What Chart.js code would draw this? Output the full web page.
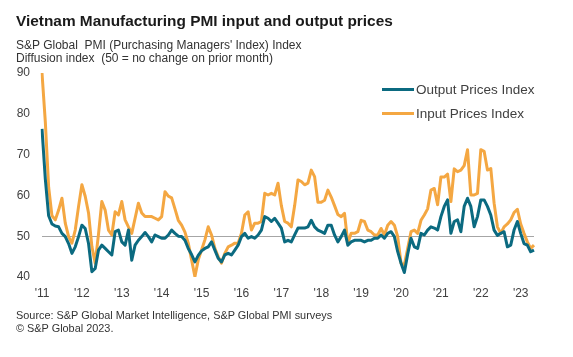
<!DOCTYPE html>
<html>
<head>
<meta charset="utf-8">
<script src="https://cdn.jsdelivr.net/npm/chart.js@4"></script>
<style>
  html, body { margin: 0; padding: 0; background: #fff; }
  body { width: 573px; height: 357px; position: relative; overflow: hidden;
         font-family: "Liberation Sans", Arial, sans-serif; color: #333; }
  #c { position: absolute; left: 0; top: 0; }
  .t { position: absolute; left: 16px; white-space: pre; }
  #title { top: 12px; font-size: 15.4px; font-weight: bold; color: #1a1a1a; }
  #sub1 { top: 38px; font-size: 12px; line-height: 14px; }
  #sub2 { top: 51px; font-size: 12px; line-height: 14px; }
  #src1 { top: 309px; font-size: 10.9px; line-height: 13px; }
  #src2 { top: 322px; font-size: 10.9px; line-height: 13px; }
  .leg { position: absolute; left: 382px; font-size: 13.5px; line-height: 16px; color: #404040; white-space: nowrap; }
  .leg i { display: inline-block; width: 32px; height: 3px; vertical-align: middle; margin-right: 2px; position: relative; top: -1px; }
</style>
</head>
<body>
<canvas id="c" width="573" height="357"></canvas>
<div class="t" id="title">Vietnam Manufacturing PMI input and output prices</div>
<div class="t" id="sub1">S&amp;P Global  PMI (Purchasing Managers' Index) Index</div>
<div class="t" id="sub2">Diffusion index  (50 = no change on prior month)</div>
<div class="t" id="src1">Source: S&amp;P Global Market Intelligence, S&amp;P Global PMI surveys</div>
<div class="t" id="src2">© S&amp;P Global 2023.</div>
<div class="leg" id="leg1" style="top:82px"><i id="sw1"></i><span id="lt1"></span></div>
<div class="leg" id="leg2" style="top:106px"><i id="sw2"></i><span id="lt2"></span></div>
<script>
// Monthly series, Mar 2011 onwards
const startYear = 2011;
const startMonth = 3;
const yearTickLabels = ["'11","'12","'13","'14","'15","'16","'17","'18","'19","'20","'21","'22","'23"];
const seriesNames = ["Output Prices Index", "Input Prices Index"];
const outputPrices = [
  76.3,64,55,53,52.5,52.3,50.7,49.9,48.2,45.8,
  47.4,49.9,52.7,51.9,48.2,41.3,42.1,46.6,47.8,47.0,
  46.2,45.4,51.1,51.5,48.6,47.8,51.5,44.1,47.8,49.0,
  49.9,50.9,49.9,48.6,50.3,49.9,49.5,49.5,50.3,51.5,
  50.7,50.0,49.9,49.0,47.0,45.5,43.7,45.3,46.4,47.0,
  47.4,48.6,46.6,44.6,43.7,45.4,45.8,45.4,46.6,47.8,
  49.9,50.7,49.5,49.9,49.5,50.3,51.5,54.8,54.4,53.6,
  54.4,53.2,52.0,48.6,49.0,48.6,50.3,52.0,52.0,52.0,
  52.3,53.9,52.3,51.5,51.1,50.7,52.7,52.7,50.3,48.6,
  49.9,51.5,47.8,48.6,49.0,49.0,49.0,48.6,49.0,49.0,
  49.5,49.5,50.3,49.5,50.7,51.1,49.9,46.2,43.4,41.1,
  45.6,49.5,47.4,47.0,50.7,50.3,51.5,52.3,52.0,51.5,
  54.8,57.3,58.9,50.7,53.6,54.0,51.1,57.3,59.3,57.3,
  52.3,54.8,58.9,58.9,57.3,55.2,51.5,50.2,50.7,51.1,
  47.4,47.8,51.5,53.6,50.7,48.2,47.8,46.2,46.6
];
const inputPrices = [
  90,78,62,55,54,56.4,59.3,53.2,49.9,48.3,
  51.5,57.3,62.6,59.8,55.7,47.5,43.4,50.5,58.5,56.4,
  51.5,50.3,56.0,55.2,58.5,54.0,52.3,50.7,54.4,58.1,
  55.7,54.8,54.8,54.8,54.4,54.0,54.8,60.9,59.8,59.4,
  56.7,53.9,52.7,51.0,48.3,44.2,40.1,44.2,46.6,49.1,
  52.3,50.3,47.0,45.0,43.4,45.8,47.4,47.8,48.3,48.3,
  50.7,55.2,56.0,51.5,53.2,53.2,53.6,60.5,60.1,60.5,
  60.1,63.0,57.5,53.6,53.2,52.3,57.5,63.8,63.4,62.6,
  63.0,66.2,64.6,58.3,58.3,58.8,61.3,59.6,57.5,55.3,
  54.8,55.6,48.3,50.7,50.7,51.1,53.9,53.6,51.5,51.1,
  50.3,50.3,51.9,50.3,52.7,53.6,52.7,49.9,43.4,43.0,
  47.0,51.1,51.5,50.7,53.9,55.2,56.7,61.3,61.7,57.7,
  64.5,64.5,65.2,58.5,66.5,65.8,66.2,67.3,71.2,60.1,
  60.1,60.5,71.2,70.8,66.2,66.6,58.1,52.3,50.7,52.3,
  53.0,54.0,55.8,56.6,53.0,50.7,48.6,47.0,47.8
];
const colors = ["#0b6a80", "#f4a742"];

const categories = outputPrices.map((_, i) => {
  const m = startMonth - 1 + i;
  return (startYear + Math.floor(m / 12)) + "-" + String(m % 12 + 1).padStart(2, "0");
});

document.getElementById("lt1").textContent = seriesNames[0];
document.getElementById("lt2").textContent = seriesNames[1];
document.getElementById("sw1").style.background = colors[0];
document.getElementById("sw2").style.background = colors[1];

new Chart(document.getElementById("c"), {
  type: "line",
  data: {
    labels: categories,
    datasets: [
      { label: seriesNames[0], data: outputPrices, borderColor: colors[0], backgroundColor: colors[0],
        borderWidth: 3, pointRadius: 0, tension: 0, borderJoinStyle: "round" },
      { label: seriesNames[1], data: inputPrices, borderColor: colors[1], backgroundColor: colors[1],
        borderWidth: 3, pointRadius: 0, tension: 0, borderJoinStyle: "round" }
    ]
  },
  options: {
    responsive: false,
    devicePixelRatio: 1,
    animation: false,
    layout: { padding: { left: 0, right: 39, top: 73, bottom: 0 } },
    plugins: { legend: { display: false }, tooltip: { enabled: false } },
    scales: {
      x: {
        type: "category",
        offset: false,
        grid: { display: false, drawTicks: false },
        border: { display: false },
        afterFit: s => { s.height = 80; },
        ticks: {
          autoSkip: false, maxRotation: 0, padding: 9,
          color: "#404040", font: { family: "Liberation Sans", size: 12 },
          callback: (v, i) => (i % 12 === 0 ? yearTickLabels[i / 12] : "")
        }
      },
      y: {
        min: 40, max: 90,
        grid: { drawTicks: false, color: c => (c.tick && c.tick.value === 50 ? "#a6a6a6" : "rgba(0,0,0,0)"), lineWidth: 1 },
        border: { display: false },
        afterFit: s => { s.width = 42; },
        ticks: { stepSize: 10, padding: 12, color: "#404040", font: { family: "Liberation Sans", size: 12 } }
      }
    }
  }
});
</script>
</body>
</html>
